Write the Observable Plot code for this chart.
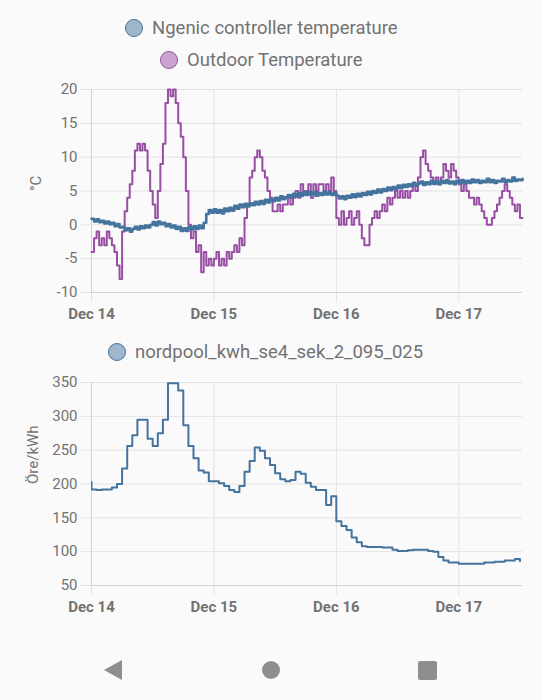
<!DOCTYPE html>
<html>
<head>
<meta charset="utf-8">
<script src="https://cdn.jsdelivr.net/npm/d3@7"></script>
<script src="https://cdn.jsdelivr.net/npm/@observablehq/plot@0.6"></script>
<style>
  html, body { margin: 0; padding: 0; background: #fafafa; }
  #page { position: relative; width: 542px; height: 700px; overflow: hidden; background: #fafafa; font-family: Roboto, "Noto Sans", sans-serif; }
  .leg { position: absolute; height: 24px; display: flex; align-items: center; font-size: 18.5px; color: #727272; white-space: nowrap; }
  .dot { box-sizing: border-box; width: 18px; height: 18px; border-radius: 50%; margin-right: 9px; border: 1px solid; }
  .chart { position: absolute; left: 0; }
  .nav { position: absolute; background: #8e8e8e; }
</style>
</head>
<body>
<div id="page"></div>
<script>
// ---------- data ----------
const startDay = Date.UTC(2022, 11, 14);          // Dec 14, 00:00
const endHour = 84.5;                              // chart ends Dec 17, 12:30
const dayTicks = [0, 1, 2, 3];                     // days after Dec 14
const dayTickLabels = ["Dec 14", "Dec 15", "Dec 16", "Dec 17"];

const tempSeriesNames = ["Ngenic controller temperature", "Outdoor Temperature"];
const tempColors = ["#44739e", "#984ea3"];
const tempTicks = [-10, -5, 0, 5, 10, 15, 20];
const tempUnit = "°C";

// half-hourly readings starting Dec 14 00:00
const outdoorTemp = [
  -4,-2,-1,-3,-2,-3,-1,-2,-3,-4,-6,-8,
  -1,2,4,6,8,11,12,11,12,11,8,5,
  3,1,5,9,12,18,20,19,20,18,15,13,
  10,5,0,-2,-1,-4,-3,-7,-4,-6,-5,-6,
  -5,-4,-6,-5,-6,-4,-5,-4,-3,-4,-2,-3,
  1,3,7,8,10,11,10,8,7,5,4,2,
  2,3,2,3,3,4,3,4,5,4,6,5,
  5,6,4,6,5,6,6,5,6,5,7,5,
  1,0,2,0,1,2,0,1,2,0,-2,-3,
  -3,0,1,2,1,2,3,2,4,3,4,5,
  4,5,4,5,4,5,6,5,7,10,11,9,
  8,7,6,7,6,7,9,8,7,9,8,7,
  6,5,6,5,4,4,3,4,3,2,1,0,
  0,1,2,3,4,5,6,5,4,3,2,3,1,1
];
const controllerTemp = [
  0.9,0.5,0.8,0.4,0.6,0.2,0.5,0.1,0.3,-0.2,0.1,-0.4,
  -0.3,-0.8,-0.5,-1.0,-0.6,-0.3,-0.7,-0.2,-0.5,-0.1,-0.4,0.0,
  0.4,-0.1,0.5,0.1,0.3,-0.2,0.1,-0.4,-0.1,-0.6,-0.3,-0.9,
  -0.5,-0.9,-0.3,-0.7,-0.2,-0.6,-0.1,-0.5,0.3,1.6,2.2,1.8,
  2.3,1.8,2.2,1.7,2.4,2.0,2.5,2.1,2.8,2.4,3.0,2.6,
  3.1,2.7,3.2,2.9,3.4,3.0,3.5,3.1,3.7,3.3,3.8,3.5,
  4.0,3.6,4.2,3.8,4.1,4.4,4.0,4.6,4.2,4.7,4.3,4.8,
  4.4,4.9,4.5,4.8,4.3,4.7,4.4,4.9,4.5,4.8,4.4,4.7,
  4.3,3.9,4.2,3.8,4.3,4.0,4.5,4.1,4.6,4.2,4.7,4.4,
  4.9,4.5,5.0,4.7,5.2,4.8,5.3,5.0,5.5,5.1,5.6,5.3,
  5.8,5.4,5.9,5.6,6.0,5.7,6.2,5.8,6.1,6.4,5.9,6.3,
  6.0,6.5,6.1,6.4,6.0,6.5,6.2,6.6,6.1,6.4,6.0,6.5,
  6.2,6.6,6.1,6.5,6.2,6.7,6.3,6.6,6.2,6.5,6.3,6.8,
  6.3,6.6,6.2,6.5,6.4,6.8,6.3,6.6,6.4,7.0,6.5,6.7,6.6,6.8
];

const priceSeriesName = "nordpool_kwh_se4_sek_2_095_025";
const priceColor = "#44739e";
const priceTicks = [50, 100, 150, 200, 250, 300, 350];
const priceUnit = "Öre/kWh";
// hourly prices starting Dec 13 23:00
const priceFirstHour = -1;
const prices = [
  203,
  192,191,192,192,195,200,223,256,272,295,295,267,256,275,295,349,349,338,287,256,238,220,217,204,
  204,201,197,191,188,197,218,234,254,249,238,228,216,207,204,206,218,215,202,196,191,191,169,182,
  145,138,132,121,114,108,107,107,107,106,106,103,101,101,102,103,103,103,101,100,92,87,84,84,
  82,82,82,82,82,84,84,85,85,87,87,89,86
];

// ---------- build ----------
const HOUR = 3600e3;
const at = h => new Date(startDay + h * HOUR);
const tickDates = dayTicks.map(d => at(d * 24));
const tickLabel = d => dayTickLabels[tickDates.findIndex(t => +t === +d)];
const xDomain = [at(0), at(endHour)];

const outdoorRows = outdoorTemp.map((v, i) => ({t: at(i / 2), v}));
const controllerRows = controllerTemp.map((v, i) => ({t: at(i / 2), v}));
const priceRows = prices.map((v, i) => ({t: at(priceFirstHour + i), v}));

const gridColor = "#e2e2e2";
const axisColor = "#d2d2d2";
const textColor = "#727272";

function frame(yTicks, unit, unitOffset) {
  return [
    Plot.gridY(yTicks, {stroke: gridColor, strokeOpacity: 1}),
    Plot.gridX(tickDates, {stroke: gridColor, strokeOpacity: 1}),
    Plot.axisY(yTicks, {tickSize: 10, tickPadding: 4, stroke: gridColor, fill: textColor, fontSize: 15, tickFormat: d => String(d), label: null}),
    Plot.axisX(tickDates, {tickSize: 10, tickPadding: 6, stroke: gridColor, fill: textColor, fontSize: 15, fontWeight: "bold", tickFormat: tickLabel, label: null}),
    Plot.ruleX([xDomain[0]], {stroke: axisColor}),
    Plot.ruleY([yTicks[0]], {stroke: axisColor}),
    Plot.text([unit], {frameAnchor: "left", dx: -unitOffset, rotate: -90, fill: textColor, fontSize: 15})
  ];
}

const page = document.getElementById("page");

function legendItem(name, color, left, top) {
  const el = document.createElement("div");
  el.className = "leg";
  el.style.left = left + "px";
  el.style.top = top + "px";
  const dot = document.createElement("div");
  dot.className = "dot";
  dot.style.borderColor = color;
  dot.style.background = color + "80";
  el.appendChild(dot);
  const span = document.createElement("span");
  span.textContent = name;
  el.appendChild(span);
  page.appendChild(el);
}

legendItem(tempSeriesNames[0], tempColors[0], 125, 16);
legendItem(tempSeriesNames[1], tempColors[1], 160, 48);

const baseStyle = {fontFamily: "Roboto, 'Noto Sans', sans-serif", color: textColor, background: "transparent"};

const tempChart = Plot.plot({
  width: 542, height: 255,
  marginTop: 14, marginBottom: 38, marginLeft: 91, marginRight: 20,
  style: baseStyle,
  x: {type: "utc", domain: xDomain},
  y: {domain: [-10, 20]},
  marks: [
    ...frame(tempTicks, tempUnit, 55),
    Plot.line(outdoorRows, {x: "t", y: "v", stroke: tempColors[1], strokeWidth: 2, curve: "step-after"}),
    Plot.line(controllerRows, {x: "t", y: "v", stroke: tempColors[0], strokeWidth: 2.6, curve: "step-after"})
  ]
});
const c1 = document.createElement("div");
c1.className = "chart";
c1.style.top = "75px";
c1.appendChild(tempChart);
page.appendChild(c1);

legendItem(priceSeriesName, priceColor, 108, 340);

const priceChart = Plot.plot({
  width: 542, height: 260,
  marginTop: 12, marginBottom: 45, marginLeft: 91, marginRight: 20,
  style: baseStyle,
  x: {type: "utc", domain: xDomain},
  y: {domain: [50, 350]},
  marks: [
    ...frame(priceTicks, priceUnit, 58),
    Plot.line(priceRows, {x: "t", y: "v", stroke: priceColor, strokeWidth: 2, curve: "step-after", clip: true})
  ]
});
const c2 = document.createElement("div");
c2.className = "chart";
c2.style.top = "370px";
c2.appendChild(priceChart);
page.appendChild(c2);

// Android navigation bar (decoration)
function nav(style) {
  const el = document.createElement("div");
  el.className = "nav";
  Object.assign(el.style, style);
  page.appendChild(el);
}
nav({left: "104px", top: "660px", width: "0", height: "0", background: "transparent",
     borderTop: "10px solid transparent", borderBottom: "10px solid transparent", borderRight: "18px solid #8e8e8e"});
nav({left: "262px", top: "661px", width: "18px", height: "18px", borderRadius: "50%"});
nav({left: "418px", top: "661px", width: "19px", height: "19px", borderRadius: "2px"});
</script>
</body>
</html>
